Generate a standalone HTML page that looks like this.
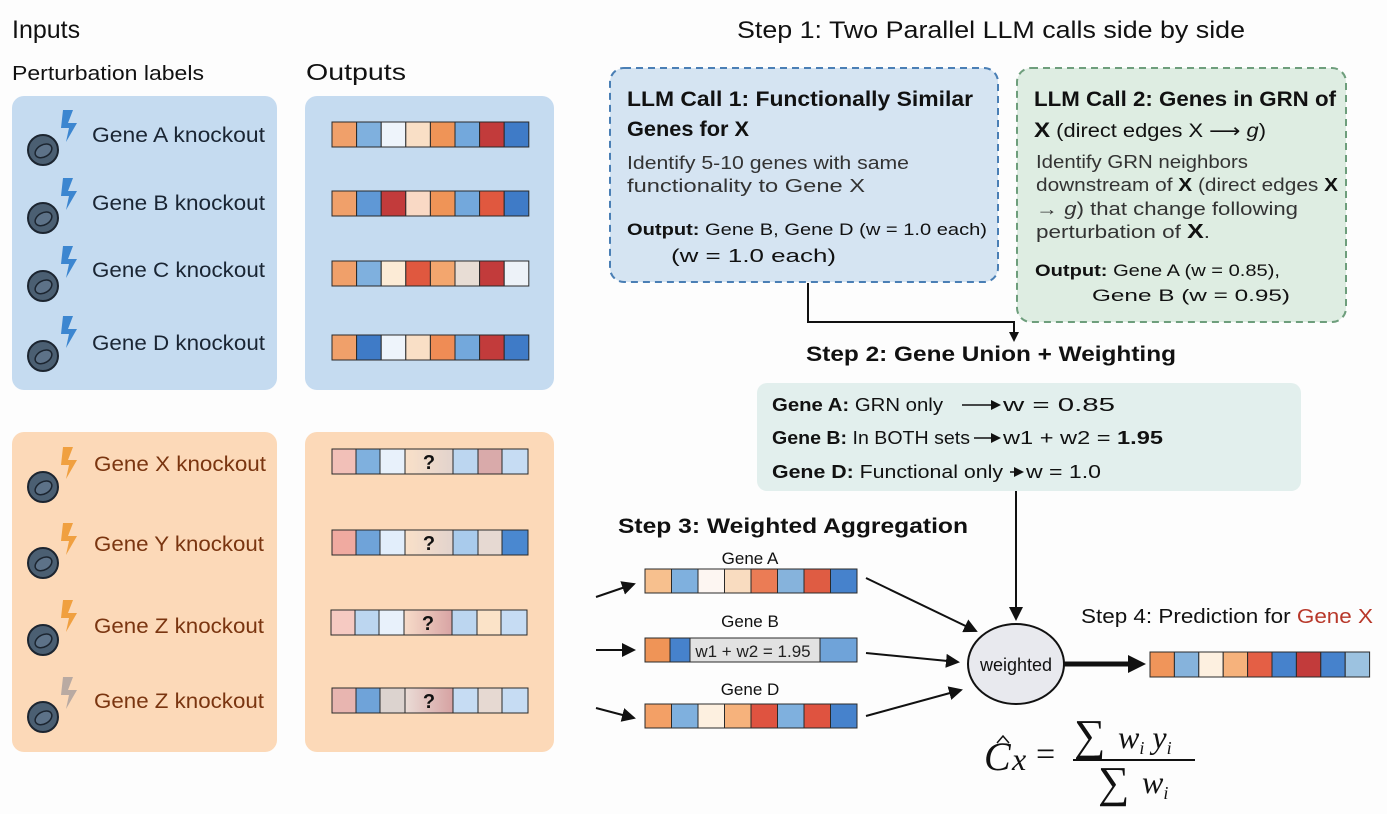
<!DOCTYPE html>
<html><head><meta charset="utf-8"><style>
html,body{margin:0;padding:0;background:#fdfdfd;}
svg{display:block;}
.s{font-family:"Liberation Sans","DejaVu Sans",sans-serif;}
.f{font-family:"Liberation Serif","DejaVu Serif",serif;}
</style></head><body>
<svg width="1387" height="814" viewBox="0 0 1387 814" xmlns="http://www.w3.org/2000/svg">
<defs>
<marker id="ah" markerWidth="10" markerHeight="10" refX="8" refY="5" orient="auto" markerUnits="userSpaceOnUse"><path d="M0,0 L10,5 L0,10 z" fill="#111"/></marker>
<marker id="ahs" markerWidth="14" markerHeight="14" refX="12" refY="7" orient="auto" markerUnits="userSpaceOnUse"><path d="M0,0 L14,7 L0,14 z" fill="#111"/></marker>
<g id="cellB">
<circle cx="0" cy="0" r="15" fill="#4b5f72" stroke="#1c2530" stroke-width="2"/>
<ellipse cx="0" cy="1" rx="9" ry="6" transform="rotate(-30)" fill="#5d7288" stroke="#1c2530" stroke-width="1.5"/>
</g>
<linearGradient id="q1" x1="0" x2="1"><stop offset="0" stop-color="#f9e0c8"/><stop offset="1" stop-color="#e2d3cd"/></linearGradient>
<linearGradient id="q2" x1="0" x2="1"><stop offset="0" stop-color="#f7dcc9"/><stop offset="1" stop-color="#d8a4a4"/></linearGradient>
<linearGradient id="q3" x1="0" x2="1"><stop offset="0" stop-color="#eadcd6"/><stop offset="1" stop-color="#d6a2a2"/></linearGradient>
</defs>
<g class="s">
<text x="12" y="38" font-size="25" fill="#111">Inputs</text>
<text x="12" y="80" font-size="20" fill="#111" textLength="192" lengthAdjust="spacingAndGlyphs">Perturbation labels</text>
<text x="306" y="80" font-size="23" fill="#111" textLength="100" lengthAdjust="spacingAndGlyphs">Outputs</text>

<rect x="12" y="96" width="265" height="294" rx="12" fill="#c5dbf0"/>
<rect x="305" y="96" width="249" height="294" rx="12" fill="#c5dbf0"/>
<rect x="12" y="432" width="265" height="320" rx="12" fill="#fcd9b8"/>
<rect x="305" y="432" width="249" height="320" rx="12" fill="#fcd9b8"/>

<g fill="#3c86d0">
<g transform="translate(43,150)"><use href="#cellB"/><polygon points="20,-40 30,-40 25,-27 34,-27 23,-8 26,-22 18,-22"/></g>
<g transform="translate(43,218)"><use href="#cellB"/><polygon points="20,-40 30,-40 25,-27 34,-27 23,-8 26,-22 18,-22"/></g>
<g transform="translate(43,286)"><use href="#cellB"/><polygon points="20,-40 30,-40 25,-27 34,-27 23,-8 26,-22 18,-22"/></g>
<g transform="translate(43,356)"><use href="#cellB"/><polygon points="20,-40 30,-40 25,-27 34,-27 23,-8 26,-22 18,-22"/></g>
</g>
<g font-size="21" fill="#1a2533">
<text x="92" y="142" textLength="173" lengthAdjust="spacingAndGlyphs">Gene A knockout</text>
<text x="92" y="210" textLength="173" lengthAdjust="spacingAndGlyphs">Gene B knockout</text>
<text x="92" y="277" textLength="173" lengthAdjust="spacingAndGlyphs">Gene C knockout</text>
<text x="92" y="350" textLength="173" lengthAdjust="spacingAndGlyphs">Gene D knockout</text>
</g>
<g fill="#f0a040">
<g transform="translate(43,487)"><use href="#cellB"/><polygon points="20,-40 30,-40 25,-27 34,-27 23,-8 26,-22 18,-22"/></g>
<g transform="translate(43,563)"><use href="#cellB"/><polygon points="20,-40 30,-40 25,-27 34,-27 23,-8 26,-22 18,-22"/></g>
<g transform="translate(43,640)"><use href="#cellB"/><polygon points="20,-40 30,-40 25,-27 34,-27 23,-8 26,-22 18,-22"/></g>
<g transform="translate(43,717)"><use href="#cellB"/><polygon fill="#b9aaa2" points="20,-40 30,-40 25,-27 34,-27 23,-8 26,-22 18,-22"/></g>
</g>
<g font-size="21" fill="#7a3510">
<text x="94" y="471" textLength="172" lengthAdjust="spacingAndGlyphs">Gene X knockout</text>
<text x="94" y="551" textLength="170" lengthAdjust="spacingAndGlyphs">Gene Y knockout</text>
<text x="94" y="633" textLength="170" lengthAdjust="spacingAndGlyphs">Gene Z knockout</text>
<text x="94" y="708" textLength="170" lengthAdjust="spacingAndGlyphs">Gene Z knockout</text>
</g>

<g stroke="#2a2a2a" stroke-width="1">
<g transform="translate(332,122)">
<rect x="0" width="24.6" height="25" fill="#f0a06a"/><rect x="24.6" width="24.6" height="25" fill="#7fb0de"/><rect x="49.2" width="24.6" height="25" fill="#eef4fb"/><rect x="73.8" width="24.6" height="25" fill="#f9dfc6"/><rect x="98.4" width="24.6" height="25" fill="#ef9457"/><rect x="123" width="24.6" height="25" fill="#73a8dc"/><rect x="147.6" width="24.6" height="25" fill="#c23b3b"/><rect x="172.2" width="24.6" height="25" fill="#3f7bc7"/></g>
<g transform="translate(332,191)">
<rect x="0" width="24.6" height="25" fill="#f0a06a"/><rect x="24.6" width="24.6" height="25" fill="#5f98d6"/><rect x="49.2" width="24.6" height="25" fill="#c23b3b"/><rect x="73.8" width="24.6" height="25" fill="#f9d9c5"/><rect x="98.4" width="24.6" height="25" fill="#ef9457"/><rect x="123" width="24.6" height="25" fill="#73a8dc"/><rect x="147.6" width="24.6" height="25" fill="#e0583f"/><rect x="172.2" width="24.6" height="25" fill="#3f7bc7"/></g>
<g transform="translate(332,261)">
<rect x="0" width="24.6" height="25" fill="#f0a06a"/><rect x="24.6" width="24.6" height="25" fill="#7fb0de"/><rect x="49.2" width="24.6" height="25" fill="#fcebd6"/><rect x="73.8" width="24.6" height="25" fill="#e0583f"/><rect x="98.4" width="24.6" height="25" fill="#f3a66e"/><rect x="123" width="24.6" height="25" fill="#e8ddd5"/><rect x="147.6" width="24.6" height="25" fill="#c23b3b"/><rect x="172.2" width="24.6" height="25" fill="#edf2f8"/></g>
<g transform="translate(332,335)">
<rect x="0" width="24.6" height="25" fill="#f0a06a"/><rect x="24.6" width="24.6" height="25" fill="#3f7bc7"/><rect x="49.2" width="24.6" height="25" fill="#eef4fb"/><rect x="73.8" width="24.6" height="25" fill="#f9dfc6"/><rect x="98.4" width="24.6" height="25" fill="#ef8c55"/><rect x="123" width="24.6" height="25" fill="#73a8dc"/><rect x="147.6" width="24.6" height="25" fill="#c23b3b"/><rect x="172.2" width="24.6" height="25" fill="#3f7bc7"/></g>

<g transform="translate(332,449)">
<rect x="0" width="24" height="25" fill="#f2c0b8"/><rect x="24" width="24" height="25" fill="#7fb0de"/><rect x="48" width="25" height="25" fill="#e8f1fb"/><rect x="73" width="48" height="25" fill="url(#q1)"/><rect x="121" width="25" height="25" fill="#bcd6f0"/><rect x="146" width="24" height="25" fill="#d9aaaa"/><rect x="170" width="26" height="25" fill="#c6dcf3"/></g>
<g transform="translate(332,530)">
<rect x="0" width="24" height="25" fill="#f0aaa0"/><rect x="24" width="24" height="25" fill="#6fa3d9"/><rect x="48" width="25" height="25" fill="#e2eefb"/><rect x="73" width="48" height="25" fill="url(#q1)"/><rect x="121" width="25" height="25" fill="#a9cbec"/><rect x="146" width="24" height="25" fill="#e6d9d2"/><rect x="170" width="26" height="25" fill="#4a88d0"/></g>
<g transform="translate(331,610)">
<rect x="0" width="24" height="25" fill="#f6cac2"/><rect x="24" width="24" height="25" fill="#bcd6f0"/><rect x="48" width="25" height="25" fill="#e8f1fb"/><rect x="73" width="48" height="25" fill="url(#q2)"/><rect x="121" width="25" height="25" fill="#bcd6f0"/><rect x="146" width="24" height="25" fill="#fbe3c8"/><rect x="170" width="26" height="25" fill="#c6dcf3"/></g>
<g transform="translate(332,688)">
<rect x="0" width="24" height="25" fill="#e8b5b0"/><rect x="24" width="24" height="25" fill="#6fa3d9"/><rect x="48" width="25" height="25" fill="#dcd3cf"/><rect x="73" width="48" height="25" fill="url(#q3)"/><rect x="121" width="25" height="25" fill="#c6dcf3"/><rect x="146" width="24" height="25" fill="#e6d9d2"/><rect x="170" width="26" height="25" fill="#c6dcf3"/></g>
</g>
<g font-size="20" font-weight="bold" fill="#111" text-anchor="middle">
<text x="429" y="469">?</text><text x="429" y="550">?</text><text x="428" y="630">?</text><text x="429" y="708">?</text>
</g>

<text x="737" y="38" font-size="24" fill="#111" textLength="508" lengthAdjust="spacingAndGlyphs">Step 1: Two Parallel LLM calls side by side</text>
<rect x="610" y="68" width="388" height="214" rx="14" fill="#d5e4f2" stroke="#4a7fb5" stroke-width="2" stroke-dasharray="7,5"/>
<g fill="#111">
<text x="627" y="106" font-size="21" font-weight="bold" textLength="346" lengthAdjust="spacingAndGlyphs">LLM Call 1: Functionally Similar</text>
<text x="627" y="136" font-size="21" font-weight="bold" textLength="122" lengthAdjust="spacingAndGlyphs">Genes for X</text>
<text x="627" y="169" font-size="18" fill="#333" textLength="282" lengthAdjust="spacingAndGlyphs">Identify 5-10 genes with same</text>
<text x="627" y="192" font-size="18" fill="#333" textLength="238" lengthAdjust="spacingAndGlyphs">functionality to Gene X</text>
<text x="627" y="235" font-size="17" textLength="360" lengthAdjust="spacingAndGlyphs"><tspan font-weight="bold">Output:</tspan> Gene B, Gene D (w = 1.0 each)</text>
<text x="671" y="262" font-size="18" textLength="165" lengthAdjust="spacingAndGlyphs">(w = 1.0 each)</text>
</g>
<rect x="1017" y="68" width="329" height="254" rx="14" fill="#deede2" stroke="#6e9e7c" stroke-width="2" stroke-dasharray="7,5"/>
<g fill="#111">
<text x="1034" y="106" font-size="21" font-weight="bold" textLength="302" lengthAdjust="spacingAndGlyphs">LLM Call 2: Genes in GRN of</text>
<text x="1034" y="137" font-size="19" textLength="232" lengthAdjust="spacingAndGlyphs"><tspan font-weight="bold" font-size="21">X</tspan> (direct edges X ⟶ <tspan font-style="italic">g</tspan>)</text>
<text x="1036" y="168" font-size="18" fill="#333" textLength="212" lengthAdjust="spacingAndGlyphs">Identify GRN neighbors</text>
<text x="1036" y="191" font-size="18" fill="#333" textLength="302" lengthAdjust="spacingAndGlyphs">downstream of <tspan font-weight="bold" fill="#111">X</tspan> (direct edges <tspan font-weight="bold" fill="#111">X</tspan></text>
<text x="1036" y="215" font-size="18" fill="#333" textLength="262" lengthAdjust="spacingAndGlyphs">→ <tspan font-style="italic">g</tspan>) that change following</text>
<text x="1036" y="238" font-size="18" fill="#333" textLength="174" lengthAdjust="spacingAndGlyphs">perturbation of <tspan font-weight="bold" fill="#111" font-size="20">X</tspan>.</text>
<text x="1035" y="276" font-size="17" textLength="245" lengthAdjust="spacingAndGlyphs"><tspan font-weight="bold">Output:</tspan> Gene A (w = 0.85),</text>
<text x="1092" y="301" font-size="17" textLength="198" lengthAdjust="spacingAndGlyphs">Gene B (w = 0.95)</text>
</g>
<polyline points="808,283 808,322 1014,322 1014,340" fill="none" stroke="#111" stroke-width="2" marker-end="url(#ah)"/>

<text x="806" y="361" font-size="21" font-weight="bold" fill="#111" textLength="370" lengthAdjust="spacingAndGlyphs">Step 2: Gene Union + Weighting</text>
<rect x="757" y="383" width="544" height="108" rx="10" fill="#e2efed"/>
<g fill="#111" font-size="18">
<text x="772" y="411" textLength="171" lengthAdjust="spacingAndGlyphs"><tspan font-weight="bold">Gene A:</tspan> GRN only</text>
<text x="1003" y="411" textLength="112" lengthAdjust="spacingAndGlyphs">w = 0.85</text>
<text x="772" y="444" textLength="198" lengthAdjust="spacingAndGlyphs"><tspan font-weight="bold">Gene B:</tspan> In BOTH sets</text>
<text x="1003" y="444" textLength="160" lengthAdjust="spacingAndGlyphs">w1 + w2 = <tspan font-weight="bold">1.95</tspan></text>
<text x="772" y="478" textLength="231" lengthAdjust="spacingAndGlyphs"><tspan font-weight="bold">Gene D:</tspan> Functional only</text>
<text x="1026" y="478" textLength="75" lengthAdjust="spacingAndGlyphs">w = 1.0</text>
</g>
<g stroke="#111" stroke-width="1.5" fill="none" marker-end="url(#ah)">
<line x1="962" y1="405" x2="999" y2="405"/>
<line x1="974" y1="438" x2="999" y2="438"/>
<line x1="1010" y1="472" x2="1022" y2="472"/>
</g>
<line x1="1016" y1="491" x2="1016" y2="619" stroke="#111" stroke-width="2" marker-end="url(#ahs)"/>

<text x="618" y="533" font-size="21" font-weight="bold" fill="#111" textLength="350" lengthAdjust="spacingAndGlyphs">Step 3: Weighted Aggregation</text>
<g font-size="17" fill="#111" text-anchor="middle">
<text x="750" y="564">Gene A</text><text x="750" y="627">Gene B</text><text x="750" y="695">Gene D</text>
</g>
<g stroke="#2a2a2a" stroke-width="1">
<g transform="translate(645,569)">
<rect x="0" width="26.5" height="24" fill="#f7c08e"/><rect x="26.5" width="26.5" height="24" fill="#7fb0de"/><rect x="53" width="26.5" height="24" fill="#fdf6f2"/><rect x="79.5" width="26.5" height="24" fill="#f9dcc0"/><rect x="106" width="26.5" height="24" fill="#eb7c55"/><rect x="132.5" width="26.5" height="24" fill="#86b3dc"/><rect x="159" width="26.5" height="24" fill="#df5c43"/><rect x="185.5" width="26.5" height="24" fill="#4682cc"/></g>
<g transform="translate(645,638)">
<rect x="0" width="25" height="24" fill="#ef9457"/><rect x="25" width="20" height="24" fill="#4682cc"/><rect x="45" width="130" height="24" fill="#e2e2e2"/><rect x="175" width="37" height="24" fill="#6fa3d9"/></g>
<g transform="translate(645,704)">
<rect x="0" width="26.5" height="24" fill="#f3a066"/><rect x="26.5" width="26.5" height="24" fill="#7fb0de"/><rect x="53" width="26.5" height="24" fill="#fdf0e0"/><rect x="79.5" width="26.5" height="24" fill="#f6b27c"/><rect x="106" width="26.5" height="24" fill="#df5340"/><rect x="132.5" width="26.5" height="24" fill="#7fb0de"/><rect x="159" width="26.5" height="24" fill="#df5340"/><rect x="185.5" width="26.5" height="24" fill="#4682cc"/></g>
<g transform="translate(1150,652)">
<rect x="0" width="24.4" height="25" fill="#f0955a"/><rect x="24.4" width="24.4" height="25" fill="#86b3dc"/><rect x="48.8" width="24.4" height="25" fill="#fdf0e0"/><rect x="73.2" width="24.4" height="25" fill="#f6b27c"/><rect x="97.6" width="24.4" height="25" fill="#e45f45"/><rect x="122" width="24.4" height="25" fill="#4682cc"/><rect x="146.4" width="24.4" height="25" fill="#c23b3b"/><rect x="170.8" width="24.4" height="25" fill="#4682cc"/><rect x="195.2" width="24.4" height="25" fill="#9cc2e0"/></g>
</g>
<text x="753" y="657" font-size="17" fill="#222" text-anchor="middle">w1 + w2 = 1.95</text>

<g stroke="#111" stroke-width="2" fill="none" marker-end="url(#ahs)">
<line x1="596" y1="597" x2="634" y2="584"/>
<line x1="596" y1="650" x2="634" y2="650"/>
<line x1="596" y1="708" x2="634" y2="718"/>
<line x1="866" y1="578" x2="976" y2="631"/>
<line x1="866" y1="653" x2="958" y2="662"/>
<line x1="866" y1="716" x2="961" y2="690"/>
</g>
<ellipse cx="1016" cy="664" rx="48" ry="40" fill="#e8e9ee" stroke="#111" stroke-width="2"/>
<text x="1016" y="671" font-size="18" fill="#111" text-anchor="middle">weighted</text>
<line x1="1064" y1="664" x2="1130" y2="664" stroke="#111" stroke-width="5"/>
<polygon points="1128,655 1146,664 1128,673" fill="#111"/>

<text x="1081" y="623" font-size="20" fill="#111" textLength="292" lengthAdjust="spacingAndGlyphs">Step 4: Prediction for <tspan fill="#b8382a">Gene X</tspan></text>
</g>

<g class="f" fill="#111">
<text x="984" y="770" font-size="40" font-style="italic">C</text>
<path d="M997,743 L1003,736 L1009,743" fill="none" stroke="#111" stroke-width="1.5"/>
<text x="1012" y="770" font-size="32" font-style="italic">x</text>
<text x="1036" y="765" font-size="34">=</text>
<text x="1074" y="750" font-size="44">∑</text>
<text x="1118" y="748" font-size="32" font-style="italic">w<tspan font-size="18" dy="6">i</tspan><tspan dy="-6"> y</tspan><tspan font-size="18" dy="6">i</tspan></text>
<line x1="1073" y1="760" x2="1195" y2="760" stroke="#111" stroke-width="2"/>
<text x="1098" y="797" font-size="44">∑</text>
<text x="1142" y="793" font-size="32" font-style="italic">w<tspan font-size="18" dy="6">i</tspan></text>
</g>
</svg>
</body></html>
